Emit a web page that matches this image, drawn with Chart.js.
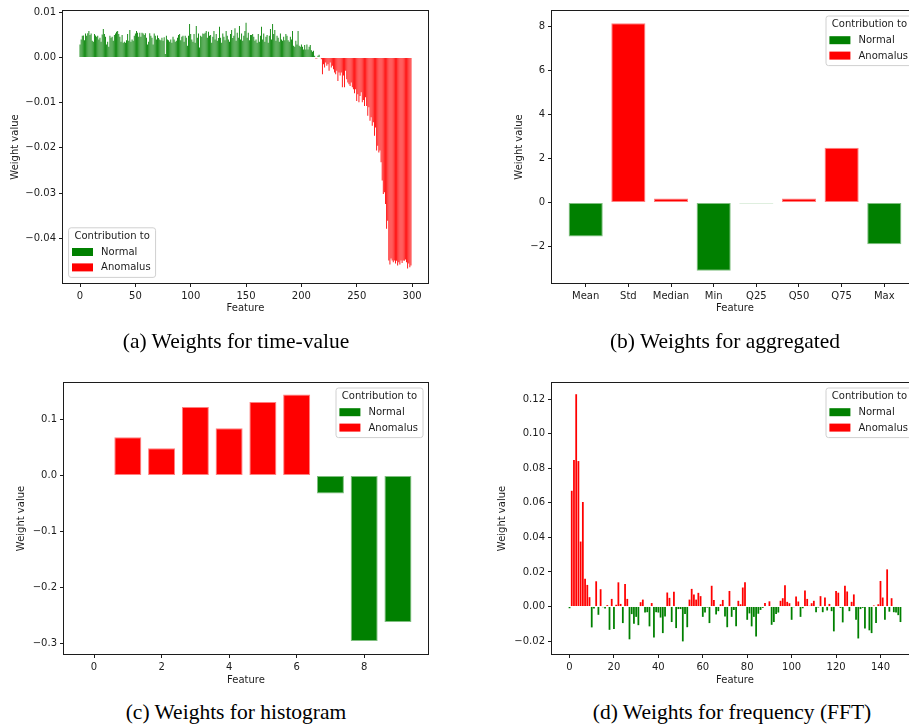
<!DOCTYPE html>
<html>
<head>
<meta charset="utf-8">
<title>Feature weights</title>
<script src="https://cdn.jsdelivr.net/npm/chart.js@4.4.1/dist/chart.umd.min.js"></script>
<style>
  html, body { margin: 0; padding: 0; background: #fff; width: 909px; height: 728px; overflow: hidden; }
  .panel { position: absolute; }
  .caption {
    position: absolute; width: 480px; text-align: center;
    font-family: 'Liberation Serif', 'Times New Roman', serif;
    font-size: 21.5px; line-height: 24px; color: #000; white-space: nowrap;
  }
</style>
</head>
<body>
<div class="panel" style="left:0;top:0"><canvas id="timeChart" width="445" height="330"></canvas></div>
<div class="panel" style="left:480px;top:0"><canvas id="aggChart" width="445" height="330"></canvas></div>
<div class="panel" style="left:0;top:370px"><canvas id="histChart" width="445" height="330"></canvas></div>
<div class="panel" style="left:480px;top:370px"><canvas id="fftChart" width="445" height="330"></canvas></div>

<div class="caption" style="left:-4px;top:329px">(a) Weights for time-value</div>
<div class="caption" style="left:485px;top:329px">(b) Weights for aggregated</div>
<div class="caption" style="left:-4px;top:700px">(c) Weights for histogram</div>
<div class="caption" style="left:492px;top:700px">(d) Weights for frequency (FFT)</div>

<script>
// ---------- data ----------
const seriesLabels = ['Normal', 'Anomalus'];

// (a) time-value weights, features 0..299
const timeWeights = [
  0.0029, 0.0040, 0.0048, 0.0049, 0.0038, 0.0053, 0.0048, 0.0054, 0.0059, 0.0050,
  0.0053, 0.0037, 0.0035, 0.0052, 0.0049, 0.0046, 0.0048, 0.0040, 0.0044, 0.0035,
  0.0051, 0.0063, 0.0052, 0.0046, 0.0029, 0.0035, 0.0024, 0.0048, 0.0044, 0.0046,
  0.0037, 0.0050, 0.0053, 0.0057, 0.0059, 0.0052, 0.0046, 0.0035, 0.0050, 0.0033,
  0.0035, 0.0033, 0.0038, 0.0052, 0.0037, 0.0061, 0.0035, 0.0040, 0.0037, 0.0048,
  0.0053, 0.0059, 0.0055, 0.0046, 0.0055, 0.0046, 0.0055, 0.0053, 0.0050, 0.0054,
  0.0044, 0.0029, 0.0035, 0.0054, 0.0048, 0.0044, 0.0029, 0.0053, 0.0048, 0.0040,
  0.0049, 0.0043, 0.0040, 0.0038, 0.0044, 0.0037, 0.0045, 0.0008, 0.0048, 0.0040,
  0.0038, 0.0035, 0.0040, 0.0033, 0.0046, 0.0040, 0.0035, 0.0037, 0.0044, 0.0050,
  0.0052, 0.0038, 0.0046, 0.0048, 0.0035, 0.0048, 0.0044, 0.0026, 0.0048, 0.0074,
  0.0052, 0.0040, 0.0035, 0.0052, 0.0033, 0.0070, 0.0044, 0.0053, 0.0022, 0.0048,
  0.0046, 0.0053, 0.0052, 0.0055, 0.0059, 0.0044, 0.0057, 0.0048, 0.0050, 0.0033,
  0.0046, 0.0059, 0.0040, 0.0052, 0.0037, 0.0043, 0.0068, 0.0044, 0.0033, 0.0053,
  0.0046, 0.0038, 0.0059, 0.0048, 0.0040, 0.0035, 0.0052, 0.0061, 0.0043, 0.0048,
  0.0065, 0.0037, 0.0055, 0.0044, 0.0070, 0.0040, 0.0053, 0.0037, 0.0048, 0.0059,
  0.0077, 0.0044, 0.0055, 0.0038, 0.0050, 0.0050, 0.0052, 0.0046, 0.0037, 0.0040,
  0.0033, 0.0052, 0.0035, 0.0048, 0.0068, 0.0040, 0.0053, 0.0035, 0.0046, 0.0050,
  0.0033, 0.0048, 0.0063, 0.0040, 0.0074, 0.0052, 0.0061, 0.0037, 0.0048, 0.0044,
  0.0035, 0.0053, 0.0040, 0.0037, 0.0046, 0.0038, 0.0052, 0.0048, 0.0038, 0.0035,
  0.0046, 0.0040, 0.0059, 0.0026, 0.0024, 0.0037, 0.0029, 0.0059, 0.0026, 0.0024,
  0.0029, 0.0024, 0.0018, 0.0028, 0.0018, 0.0029, 0.0018, 0.0024, 0.0028, 0.0016,
  0.0013, 0.0015, 0.0004, -0.0002, -0.0002, 0.0004, 0.0006, 0.0001, -0.0004, -0.0037,
  -0.0015, -0.0022, -0.0011, -0.0018, -0.0015, -0.0029, -0.0011, -0.0022, -0.0018, -0.0026,
  -0.0033, -0.0037, -0.0029, -0.0052, -0.0033, -0.0040, -0.0033, -0.0066, -0.0040, -0.0066,
  -0.0029, -0.0048, -0.0055, -0.0059, -0.0063, -0.0055, -0.0066, -0.0070, -0.0079, -0.0070,
  -0.0096, -0.0081, -0.0099, -0.0085, -0.0077, -0.0099, -0.0094, -0.0107, -0.0088, -0.0107,
  -0.0129, -0.0110, -0.0140, -0.0132, -0.0151, -0.0143, -0.0173, -0.0155, -0.0206, -0.0195,
  -0.0210, -0.0206, -0.0232, -0.0272, -0.0302, -0.0298, -0.0324, -0.0379, -0.0361, -0.0449,
  -0.0458, -0.0445, -0.0449, -0.0453, -0.0449, -0.0456, -0.0450, -0.0460, -0.0453, -0.0458,
  -0.0449, -0.0455, -0.0449, -0.0450, -0.0447, -0.0453, -0.0467, -0.0456, -0.0464, -0.0460
];
const timeTicksX = [0, 50, 100, 150, 200, 250, 300];
const timeTicksY = [-0.04, -0.03, -0.02, -0.01, 0.00, 0.01];

// (b) aggregated statistics
const aggFeatures = ['Mean', 'Std', 'Median', 'Min', 'Q25', 'Q50', 'Q75', 'Max'];
const aggWeights = [-1.55, 8.15, 0.18, -3.10, -0.04, 0.18, 2.49, -1.90];
const aggTicksY = [-2, 0, 2, 4, 6, 8];

// (c) histogram bins 0..9
const histWeights = [0, 0.0684, 0.0488, 0.1225, 0.0845, 0.1314, 0.1446, -0.0322, -0.2964, -0.2625];
const histTicksX = [0, 2, 4, 6, 8];
const histTicksY = [-0.3, -0.2, -0.1, 0.0, 0.1];

// (d) FFT coefficients 0..149
const fftWeights = [
  -0.0010, 0.0670, 0.0848, 0.1229, 0.0842, 0.0376, 0.0605, 0.0160, 0.0125, 0.0054,
  -0.0121, -0.0012, 0.0146, -0.0048, 0.0100, -0.0004, -0.0012, 0.0008, -0.0135, 0.0044,
  -0.0130, 0.0010, 0.0140, 0.0015, -0.0096, 0.0130, 0.0044, -0.0190, -0.0044, -0.0100,
  -0.0060, -0.0108, 0.0025, 0.0040, -0.0035, -0.0033, -0.0115, 0.0020, -0.0180, -0.0033,
  -0.0035, -0.0064, -0.0154, -0.0058, 0.0081, 0.0050, -0.0090, 0.0085, -0.0125, -0.0015,
  -0.0015, -0.0202, -0.0044, -0.0120, 0.0040, 0.0102, 0.0070, 0.0040, 0.0079, 0.0060,
  -0.0060, -0.0035, -0.0006, -0.0096, 0.0120, 0.0038, -0.0046, -0.0027, 0.0013, 0.0038,
  -0.0058, -0.0120, 0.0090, -0.0060, -0.0020, -0.0115, 0.0033, 0.0013, 0.0110, 0.0140,
  -0.0077, -0.0040, -0.0115, -0.0060, -0.0173, -0.0042, -0.0020, -0.0008, 0.0020, 0.0003,
  0.0030, -0.0106, -0.0090, -0.0044, -0.0035, 0.0033, 0.0048, 0.0123, 0.0027, 0.0019,
  -0.0077, -0.0004, 0.0058, 0.0029, -0.0060, -0.0010, 0.0092, 0.0044, 0.0004, 0.0019,
  0.0033, -0.0033, -0.0006, 0.0060, -0.0033, 0.0052, -0.0023, 0.0015, -0.0027, -0.0144,
  0.0090, 0.0080, -0.0008, -0.0092, 0.0120, 0.0087, -0.0027, 0.0027, 0.0070, -0.0077,
  -0.0185, -0.0015, -0.0008, -0.0127, -0.0003, -0.0138, -0.0154, 0.0006, -0.0096, 0.0013,
  0.0148, 0.0052, -0.0077, 0.0215, -0.0030, 0.0048, -0.0033, -0.0035, -0.0050, -0.0090
];
const fftTicksX = [0, 20, 40, 60, 80, 100, 120, 140];
const fftTicksY = [-0.02, 0.00, 0.02, 0.04, 0.06, 0.08, 0.10, 0.12];

// ---------- styling ----------
const GREEN = '#008000';
const RED = '#ff0000';
const GREEN_EDGE = 'rgba(0,128,0,0.5)';
const RED_EDGE = 'rgba(255,0,0,0.5)';
const INK = '#1c1c1c';
const MINUS = '\u2212';

Chart.defaults.font.family = "'DejaVu Sans', sans-serif";
Chart.defaults.font.size = 10;
Chart.defaults.color = INK;
Chart.defaults.animation = false;

function fmt(digits) {
  return v => {
    const s = Math.abs(v).toFixed(digits);
    return (v < 0 && Number(s) !== 0 ? MINUS : '') + s;
  };
}

// full box around the plotting area
const frame = {
  id: 'frame',
  afterDraw(chart) {
    const { ctx, chartArea: a } = chart;
    ctx.save();
    ctx.strokeStyle = INK;
    ctx.lineWidth = 1;
    ctx.strokeRect(Math.round(a.left) - 0.5, Math.round(a.top) - 0.5,
      Math.round(a.right) - Math.round(a.left) + 1, Math.round(a.bottom) - Math.round(a.top) + 1);
    ctx.restore();
  }
};

// legend with a title, drawn inside the axes
const legendBox = {
  id: 'legendBox',
  afterDraw(chart, args, opts) {
    const { ctx, chartArea: a } = chart;
    const items = chart.data.datasets.map(d => ({ text: d.label, color: d.backgroundColor }));
    ctx.save();
    ctx.font = "10px 'DejaVu Sans'";
    const titleW = ctx.measureText(opts.title).width;
    const labelW = Math.max(...items.map(i => ctx.measureText(i.text).width));
    const w = Math.max(titleW + 11, 32.5 + labelW + 5);
    const h = 49.6;
    const x = opts.corner === 'upper right' ? a.right - 5 - w : a.left + 5.6;
    const y = opts.corner === 'upper right' ? a.top + 5 : a.bottom - 5.6 - h;

    ctx.beginPath();
    ctx.roundRect(x, y, w, h, 2.5);
    ctx.fillStyle = 'rgba(255,255,255,0.8)';
    ctx.fill();
    ctx.strokeStyle = '#d0d0d0';
    ctx.lineWidth = 1;
    ctx.stroke();

    ctx.fillStyle = INK;
    ctx.textBaseline = 'middle';
    ctx.textAlign = 'center';
    ctx.fillText(opts.title, x + w / 2, y + 8.8);
    ctx.textAlign = 'left';
    items.forEach((it, i) => {
      const cy = y + 24.2 + i * 15.4;
      ctx.fillStyle = it.color;
      ctx.fillRect(x + 3.4, cy - 4, 21, 8);
      ctx.fillStyle = INK;
      ctx.fillText(it.text, x + 32.5, cy + 0.5);
    });
    ctx.restore();
  }
};

// one chart = one subplot; bars coloured by which class they push towards
function weightChart(id, cfg) {
  const xs = cfg.values.map((v, i) => i);
  const isNormal = v => (cfg.normalPositive ? v >= 0 : v < 0);
  const normalData = cfg.values.map((v, i) => ({ x: xs[i], y: isNormal(v) ? v : null }));
  const anomData = cfg.values.map((v, i) => ({ x: xs[i], y: isNormal(v) ? null : v }));

  const L = cfg.layout;
  const el = document.getElementById(id);
  const W = el.width, H = el.height;
  const padLeft = L.yTitleX - 6;
  const yAxisW = L.left - padLeft;
  const xAxisH = L.xTitleY + 6 - L.bottom;

  const barStyle = {
    barPercentage: 0.8,
    categoryPercentage: 1.0,
    grouped: false,
    borderWidth: cfg.edge || 0,
    borderSkipped: false
  };

  const axisGrid = { offset: false, drawOnChartArea: false, drawTicks: true, tickLength: 4, color: INK };

  return new Chart(el, {
    type: 'bar',
    data: {
      datasets: [
        Object.assign({ label: seriesLabels[0], data: normalData, backgroundColor: GREEN, borderColor: GREEN_EDGE }, barStyle),
        Object.assign({ label: seriesLabels[1], data: anomData, backgroundColor: RED, borderColor: RED_EDGE }, barStyle)
      ]
    },
    options: {
      responsive: false,
      events: [],
      layout: { padding: { left: padLeft, top: L.top, right: W - L.right, bottom: H - (L.xTitleY + 6) } },
      plugins: {
        legend: { display: false },
        tooltip: { enabled: false },
        legendBox: { title: 'Contribution to', corner: cfg.legendCorner }
      },
      scales: {
        x: {
          type: 'linear',
          offset: false,
          min: cfg.xMin,
          max: cfg.xMax,
          afterBuildTicks: s => { s.ticks = cfg.xTicks.map(v => ({ value: v })); },
          afterFit: s => { s.height = xAxisH; },
          ticks: { padding: 3, maxRotation: 0, autoSkip: false, callback: cfg.xLabel || (v => String(v)) },
          grid: axisGrid,
          border: { display: false },
          title: { display: true, text: 'Feature', padding: 0, font: { size: 10 } }
        },
        y: {
          min: cfg.yMin,
          max: cfg.yMax,
          afterBuildTicks: s => { s.ticks = cfg.yTicks.map(v => ({ value: v })); },
          afterFit: s => { s.width = yAxisW; },
          ticks: { padding: 3, autoSkip: false, callback: cfg.yFmt },
          grid: axisGrid,
          border: { display: false },
          title: { display: true, text: 'Weight value', padding: 0, font: { size: 10 } }
        }
      }
    },
    plugins: [frame, legendBox]
  });
}

weightChart('timeChart', {
  values: timeWeights, normalPositive: true,
  xMin: -15.4, xMax: 314.4, xTicks: timeTicksX,
  yMin: -0.0499, yMax: 0.0103, yTicks: timeTicksY, yFmt: fmt(2),
  legendCorner: 'lower left',
  layout: { left: 63, top: 11, right: 428, bottom: 283, yTitleX: 15, xTitleY: 308 }
});

weightChart('aggChart', {
  values: aggWeights, normalPositive: false, edge: 1,
  xMin: -0.79, xMax: 7.79, xTicks: aggWeights.map((v, i) => i), xLabel: v => aggFeatures[v],
  yMin: -3.66, yMax: 8.71, yTicks: aggTicksY, yFmt: fmt(0),
  legendCorner: 'upper right',
  layout: { left: 72, top: 11, right: 438, bottom: 283, yTitleX: 39, xTitleY: 308 }
});

weightChart('histChart', {
  values: histWeights, normalPositive: false, edge: 1,
  xMin: -0.89, xMax: 9.89, xTicks: histTicksX,
  yMin: -0.3196, yMax: 0.1654, yTicks: histTicksY, yFmt: fmt(1),
  legendCorner: 'upper right',
  layout: { left: 64, top: 13, right: 428, bottom: 284, yTitleX: 21, xTitleY: 310 }
});

weightChart('fftChart', {
  values: fftWeights, normalPositive: false,
  xMin: -7.89, xMax: 156.89, xTicks: fftTicksX,
  yMin: -0.0275, yMax: 0.1294, yTicks: fftTicksY, yFmt: fmt(2),
  legendCorner: 'upper right',
  layout: { left: 72, top: 13, right: 438, bottom: 284, yTitleX: 22, xTitleY: 310 }
});
</script>
</body>
</html>
